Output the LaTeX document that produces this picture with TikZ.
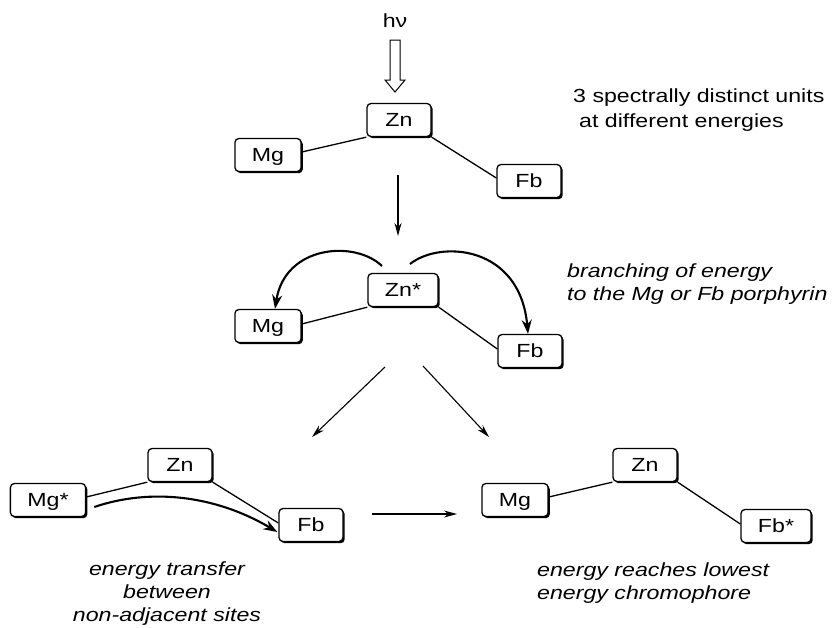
\documentclass[tikz,border=0pt]{standalone}
\usepackage{fontspec}
\setmainfont[FakeStretch=1.22]{Liberation Sans}
\usetikzlibrary{arrows.meta,shadows,calc}
\begin{document}
\begin{tikzpicture}[x=1pt,y=-1pt,
  box/.style={draw, line width=1.3pt, rounded corners=4pt, fill=white,
    minimum width=64pt, minimum height=33pt, inner xsep=17pt, inner ysep=0pt,
    text height=13.5pt, text depth=0pt,
    font=\fontsize{19}{22}\selectfont,
    drop shadow={shadow xshift=1.7pt, shadow yshift=-1.7pt, fill=black, opacity=1}},
  link/.style={line width=1.3pt},
  thinarrow/.style={line width=1.1pt, -{Stealth[length=13pt,width=7pt]}},
  bendarrow/.style={line width=2.1pt, -{Stealth[length=14pt,width=10pt]}},
  caption/.style={font=\fontsize{19}{25}\selectfont, inner sep=0pt},
  icaption/.style={font=\fontsize{19}{23}\selectfont\itshape, inner sep=0pt},
]
\useasboundingbox (0,0) rectangle (833,627);

% top group
\node[caption] (hv) at (395,21) {hν};
\node[box] (zA) at (399,120) {Zn};
\node[box] (mA) at (268,155) {Mg};
\node[box] (fA) at (529,181) {Fb};
\draw[line width=1pt, fill=white] (390,40) -- (400,40) -- (400,80) -- (405,80) -- (395,92)
  -- (385,80) -- (390,80) -- cycle;
\draw[link] ($(mA.east)+(0,-3)$) -- (zA.south west);
\draw[link] (zA.south east) -- ($(fA.west)+(0,-3)$);
\node[caption, anchor=west, align=left] (t1) at (573,110)
  {3 spectrally distinct units\\\hspace*{6pt}at different energies};

% arrow to middle
\coordinate (d1) at (398,175);
\coordinate (d2) at (398,236);
\draw[thinarrow] (d1) -- (d2);

% middle group
\node[box] (zB) at (403,290) {Zn*};
\node[box] (mB) at (268,326) {Mg};
\node[box] (fB) at (530,351) {Fb};
\draw[link] ($(mB.east)+(0,-2)$) -- (zB.south west);
\draw[link] (zB.south east) -- ($(fB.west)+(0,-2)$);
\draw[bendarrow] (382,266) .. controls (355,240) and (285,245) .. (mB.north -| 275,0);
\draw[bendarrow] (410,264) .. controls (440,240) and (520,245) .. (fB.north -| 528,0);
\node[icaption, anchor=west, align=left] (t2) at (567,284)
  {branching of energy\\to the Mg or Fb porphyrin};

% diagonal arrows
\coordinate (a1) at (385,367);
\coordinate (a2) at (312,437);
\coordinate (b1) at (423,366);
\coordinate (b2) at (489,437);
\draw[thinarrow] (a1) -- (a2);
\draw[thinarrow] (b1) -- (b2);

% bottom-left group
\node[box] (zC) at (180,465) {Zn};
\node[box] (mC) at (48,500) {Mg*};
\node[box] (fC) at (311,525) {Fb};
\draw[link] ($(mC.east)+(0,-3)$) -- (zC.south west);
\draw[link] (zC.south east) -- ($(fC.west)+(0,-2)$);
\draw[bendarrow] ($(mC.east)+(8,7)$) .. controls (150,488) and (215,495) .. ($(fC.west)+(-1,7)$);
\node[icaption, align=center] (t3) at (167,594)
  {energy transfer\\between\\non-adjacent sites};

% horizontal arrow
\coordinate (h1) at (372,514);
\coordinate (h2) at (457,514);
\draw[thinarrow] (h1) -- (h2);

% bottom-right group
\node[box] (mD) at (515,500) {Mg};
\node[box] (zD) at (645,465) {Zn};
\node[box] (fD) at (776,526) {Fb*};
\draw[link] ($(mD.east)+(0,-3)$) -- (zD.south west);
\draw[link] (zD.south east) -- ($(fD.west)+(0,-2)$);
\node[icaption, anchor=west, align=left] (t4) at (537,583)
  {energy reaches lowest\\energy chromophore};
\end{tikzpicture}
\end{document}
